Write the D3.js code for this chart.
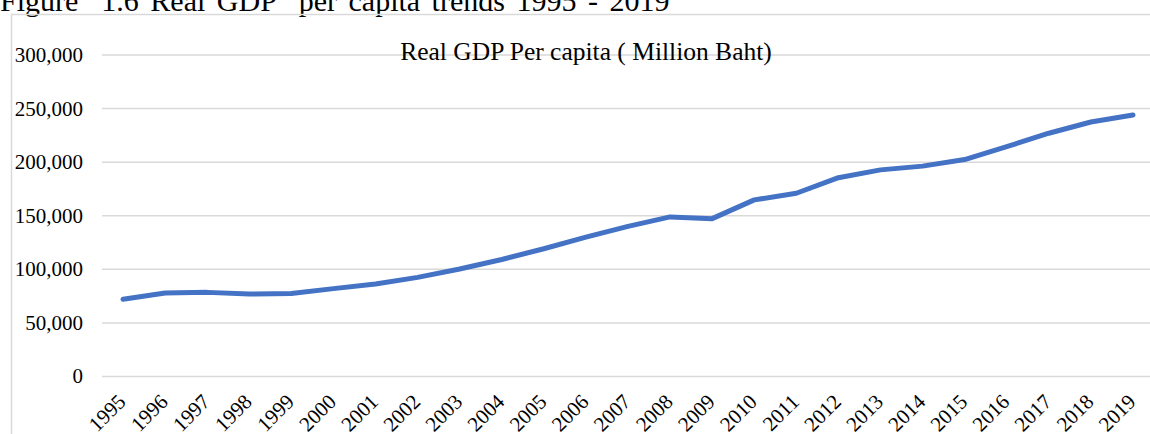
<!DOCTYPE html>
<html>
<head>
<meta charset="utf-8">
<script src="https://cdn.jsdelivr.net/npm/d3@7"></script>
<style>
  html, body { margin: 0; padding: 0; background: #fff; }
  svg { display: block; font-family: "Liberation Serif", "Times New Roman", serif; }
  .caption { white-space: pre; }
</style>
</head>
<body>
<svg id="chart" width="1150" height="434"></svg>
<script>
// Real GDP per capita, 1995–2019
const years = ["1995","1996","1997","1998","1999","2000","2001","2002","2003","2004",
               "2005","2006","2007","2008","2009","2010","2011","2012","2013","2014",
               "2015","2016","2017","2018","2019"];
const gdpPerCapita = [72000, 77900, 78500, 77000, 77400, 82000, 86400, 92500, 100300, 109200,
                      119200, 130100, 140100, 148900, 147300, 164800, 171000, 185500, 192800, 196300,
                      202400, 214500, 227000, 237500, 244000];
const yTicks = [0, 50000, 100000, 150000, 200000, 250000, 300000];
const figureCaption = "Figure  1.6 Real GDP  per capita trends 1995 - 2019";
const chartTitle = "Real GDP Per capita ( Million Baht)";

const svg = d3.select("#chart");

const plot = { left: 102, right: 1154, top: 55, bottom: 376.5 };

const x = d3.scaleBand().domain(years).range([plot.left, plot.right]).paddingInner(0).paddingOuter(0);
const y = d3.scaleLinear().domain([0, 300000]).range([plot.bottom, plot.top]);
const cx = d => x(d) + x.bandwidth() / 2;

// figure caption, sitting just above the frame
svg.append("text")
  .attr("class", "caption")
  .attr("x", 0).attr("y", 11)
  .attr("font-size", 30).attr("fill", "#000")
  .attr("word-spacing", 4)
  .text(figureCaption);

// chart frame
svg.append("rect")
  .attr("x", 11.5).attr("y", 14.5)
  .attr("width", 1160).attr("height", 440)
  .attr("fill", "none").attr("stroke", "#d9d9d9").attr("stroke-width", 1.5);

// horizontal gridlines
svg.append("g")
  .selectAll("line")
  .data(yTicks)
  .join("line")
  .attr("x1", plot.left).attr("x2", 1150)
  .attr("y1", d => y(d)).attr("y2", d => y(d))
  .attr("stroke", "#d9d9d9").attr("stroke-width", 1.5);

// y axis labels
const fmt = d3.format(",");
svg.append("g")
  .selectAll("text")
  .data(yTicks)
  .join("text")
  .attr("x", 83).attr("y", d => y(d))
  .attr("dy", "0.33em")
  .attr("text-anchor", "end")
  .attr("font-size", 21).attr("fill", "#000")
  .text(d => fmt(d));

// x axis labels, rotated
svg.append("g")
  .selectAll("text")
  .data(years)
  .join("text")
  .attr("transform", d => `translate(${cx(d) + 4},${403}) rotate(-45)`)
  .attr("text-anchor", "end")
  .attr("font-size", 21).attr("fill", "#000")
  .text(d => d);

// chart title
svg.append("text")
  .attr("x", 586).attr("y", 59.5)
  .attr("text-anchor", "middle")
  .attr("font-size", 25.5).attr("fill", "#000")
  .text(chartTitle);

// series line
const line = d3.line()
  .x((d, i) => cx(years[i]))
  .y(d => y(d));

svg.append("path")
  .datum(gdpPerCapita)
  .attr("d", line)
  .attr("fill", "none")
  .attr("stroke", "#4472C4")
  .attr("stroke-width", 5)
  .attr("stroke-linejoin", "round")
  .attr("stroke-linecap", "round");
</script>
</body>
</html>
